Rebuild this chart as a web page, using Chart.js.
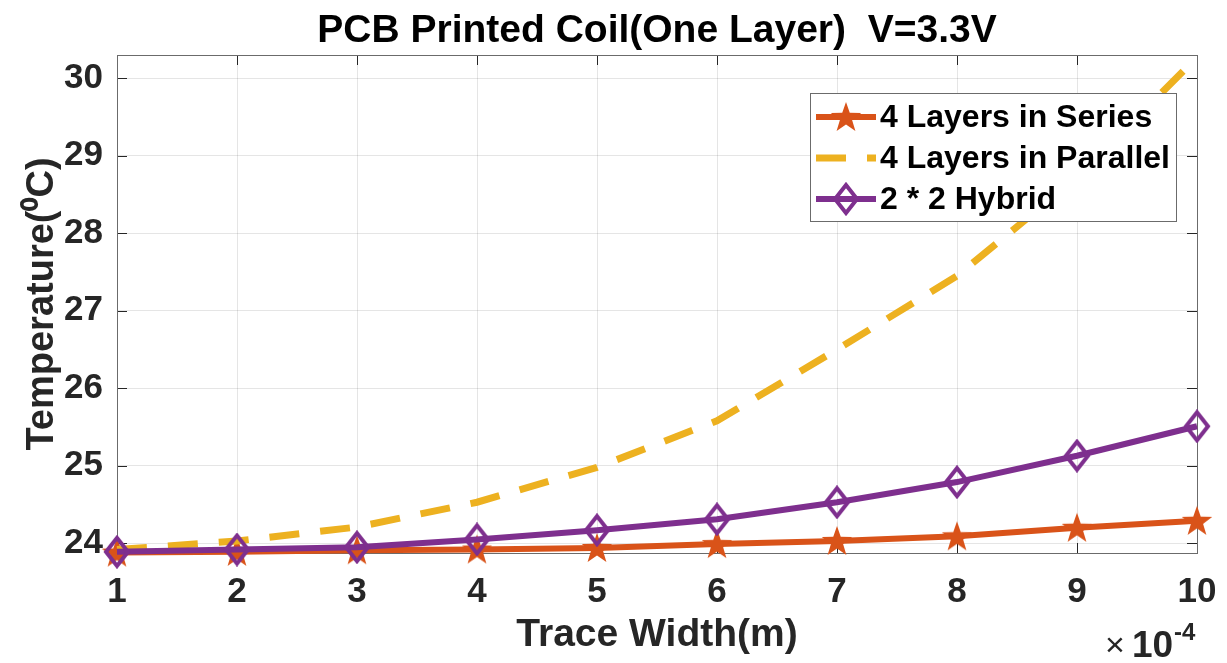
<!DOCTYPE html>
<html>
<head>
<meta charset="utf-8">
<script src="https://cdn.jsdelivr.net/npm/chart.js@4.4.1/dist/chart.umd.min.js"></script>
<style>
  body { margin: 0; background: #fff; }
</style>
</head>
<body>
<canvas id="coilChart" width="1227" height="663"></canvas>
<script>
// trace width, in units of 1e-4 m
const TRACE_WIDTH = [1, 2, 3, 4, 5, 6, 7, 8, 9, 10];
const X_TICKS = [1, 2, 3, 4, 5, 6, 7, 8, 9, 10];
const Y_TICKS = [24, 25, 26, 27, 28, 29, 30];

// temperature (deg C)
const SERIES_4 = [23.88, 23.89, 23.91, 23.92, 23.94, 23.99, 24.03, 24.09, 24.20, 24.29];
const PARALLEL_4 = [23.92, 24.03, 24.21, 24.53, 24.98, 25.58, 26.50, 27.45, 28.72, 30.27];
const HYBRID_2x2 = [23.89, 23.92, 23.95, 24.05, 24.17, 24.31, 24.53, 24.79, 25.13, 25.51];

const ORANGE = '#D95319';
const YELLOW = '#EDB120';
const PURPLE = '#7E2F8E';
const TEXT = '#262626';
const FONT = "'Liberation Sans', Arial, Helvetica, sans-serif";

Chart.defaults.font.family = FONT;

// filled pentagram marker
function makeStar(color) {
    const c = document.createElement('canvas');
    c.width = 34; c.height = 34;
    const g = c.getContext('2d');
    g.fillStyle = color;
    g.beginPath();
    for (let i = 0; i < 10; i++) {
        const r = i % 2 === 0 ? 16 : 6.4;
        const a = -Math.PI / 2 + i * Math.PI / 5;
        const px = 17 + r * Math.cos(a), py = 18 + r * Math.sin(a);
        if (i === 0) g.moveTo(px, py); else g.lineTo(px, py);
    }
    g.closePath();
    g.fill();
    return c;
}

// open diamond marker (taller than wide)
function makeDiamond(color) {
    const c = document.createElement('canvas');
    c.width = 30; c.height = 34;
    const g = c.getContext('2d');
    g.strokeStyle = color;
    g.lineWidth = 4;
    g.lineJoin = 'miter';
    g.beginPath();
    g.moveTo(15, 3); g.lineTo(26, 17); g.lineTo(15, 31); g.lineTo(4, 17);
    g.closePath();
    g.stroke();
    return c;
}

const starImg = makeStar(ORANGE);
const diamondImg = makeDiamond(PURPLE);

function pts(ys) {
    return TRACE_WIDTH.map((x, i) => ({ x: x, y: ys[i] }));
}

const frame = {
    id: 'frame',
    beforeDatasetsDraw(chart) {
        const { ctx, chartArea: a, scales: { x, y } } = chart;
        ctx.save();
        ctx.strokeStyle = TEXT;
        ctx.lineWidth = 1;
        ctx.beginPath();
        X_TICKS.forEach(v => {
            const px = Math.round(x.getPixelForValue(v)) + 0.5;
            ctx.moveTo(px, a.bottom); ctx.lineTo(px, a.bottom - 10);
            ctx.moveTo(px, a.top); ctx.lineTo(px, a.top + 10);
        });
        Y_TICKS.forEach(v => {
            const py = Math.round(y.getPixelForValue(v)) + 0.5;
            ctx.moveTo(a.left, py); ctx.lineTo(a.left + 10, py);
            ctx.moveTo(a.right, py); ctx.lineTo(a.right - 10, py);
        });
        ctx.stroke();
        ctx.strokeStyle = '#6b6b6b';
        ctx.strokeRect(Math.round(a.left) + 0.5, Math.round(a.top) + 0.5,
            Math.round(a.right - a.left), Math.round(a.bottom - a.top));
        ctx.restore();
    },
    afterDraw(chart) {
        const { ctx, chartArea: a } = chart;
        ctx.save();
        ctx.fillStyle = '#000';
        ctx.textAlign = 'center';
        ctx.textBaseline = 'middle';
        ctx.font = 'bold 39px ' + FONT;
        ctx.fillText('PCB Printed Coil(One Layer)  V=3.3V', (a.left + a.right) / 2, 31);

        // exponent note under x axis
        ctx.fillStyle = TEXT;
        ctx.textAlign = 'left';
        ctx.textBaseline = 'alphabetic';
        ctx.font = '34px ' + FONT;
        ctx.fillText('\u00d7', 1105, 656);
        ctx.font = 'bold 37px ' + FONT;
        ctx.fillText('10', 1132, 657);
        ctx.font = 'bold 24px ' + FONT;
        ctx.fillText('-4', 1174, 640);
        ctx.restore();
    }
};

const boxLegend = {
    id: 'boxLegend',
    afterDraw(chart) {
        const { ctx } = chart;
        const bx = 810, by = 93, bw = 366, bh = 128;
        ctx.save();
        ctx.fillStyle = '#fff';
        ctx.fillRect(bx, by, bw, bh);
        ctx.strokeStyle = '#6b6b6b';
        ctx.lineWidth = 1;
        ctx.strokeRect(bx + 0.5, by + 0.5, bw, bh);
        const rows = [117, 158, 199];
        chart.data.datasets.forEach((ds, i) => {
            const ry = rows[i];
            ctx.save();
            ctx.strokeStyle = ds.borderColor;
            ctx.lineWidth = ds.borderWidth;
            ctx.setLineDash(ds.borderDash || []);
            ctx.beginPath();
            ctx.moveTo(816, ry); ctx.lineTo(876, ry);
            ctx.stroke();
            ctx.restore();
            if (ds.pointStyle instanceof HTMLCanvasElement) {
                const im = ds.pointStyle;
                ctx.drawImage(im, 846 - im.width / 2, ry - im.height / 2);
            }
            ctx.fillStyle = '#000';
            ctx.font = 'bold 32px ' + FONT;
            ctx.textAlign = 'left';
            ctx.textBaseline = 'middle';
            ctx.fillText(ds.label, 880, ry + 1);
        });
        ctx.restore();
    }
};

const GRID = 'rgba(38,38,38,0.12)';

new Chart(document.getElementById('coilChart'), {
    type: 'line',
    data: {
        datasets: [
            {
                label: '4 Layers in Series',
                data: pts(SERIES_4),
                borderColor: ORANGE,
                backgroundColor: ORANGE,
                borderWidth: 6,
                pointStyle: starImg,
                pointRadius: 16,
                tension: 0,
                clip: false,
                order: 3
            },
            {
                label: '4 Layers in Parallel',
                data: pts(PARALLEL_4),
                borderColor: YELLOW,
                borderWidth: 7,
                borderDash: [30, 21],
                borderCapStyle: 'butt',
                pointRadius: 0,
                tension: 0,
                clip: false,
                order: 2
            },
            {
                label: '2 * 2 Hybrid',
                data: pts(HYBRID_2x2),
                borderColor: PURPLE,
                backgroundColor: PURPLE,
                borderWidth: 6,
                pointStyle: diamondImg,
                pointRadius: 16,
                tension: 0,
                clip: false,
                order: 1
            }
        ]
    },
    options: {
        responsive: false,
        animation: false,
        devicePixelRatio: 1,
        layout: { padding: { top: 55, right: 30, left: 0, bottom: 0 } },
        plugins: {
            legend: { display: false },
            title: { display: false },
            tooltip: { enabled: false }
        },
        scales: {
            x: {
                type: 'linear',
                min: 1,
                max: 10,
                afterBuildTicks: s => { s.ticks = X_TICKS.map(v => ({ value: v })); },
                afterFit: s => { s.height = 110; s.paddingLeft = 0; s.paddingRight = 0; },
                grid: { color: GRID, drawTicks: false },
                border: { display: false },
                ticks: { color: TEXT, padding: 18, maxRotation: 0, font: { size: 35, weight: 'bold' } },
                title: {
                    display: true,
                    text: 'Trace Width(m)',
                    color: TEXT,
                    font: { size: 39, weight: 'bold' },
                    padding: { top: 0, bottom: 4 }
                }
            },
            y: {
                type: 'linear',
                min: 23.875,
                max: 30.3,
                afterBuildTicks: s => { s.ticks = Y_TICKS.map(v => ({ value: v })); },
                afterFit: s => { s.width = 117; s.paddingTop = 0; s.paddingBottom = 0; },
                grid: { color: GRID, drawTicks: false },
                border: { display: false },
                ticks: { color: TEXT, padding: 14, font: { size: 35, weight: 'bold' } },
                title: {
                    display: true,
                    text: 'Temperature(\u2070C)',
                    color: TEXT,
                    font: { size: 38, weight: 'bold' },
                    padding: { top: 20, bottom: 0 }
                }
            }
        }
    },
    plugins: [frame, boxLegend]
});
</script>
</body>
</html>
